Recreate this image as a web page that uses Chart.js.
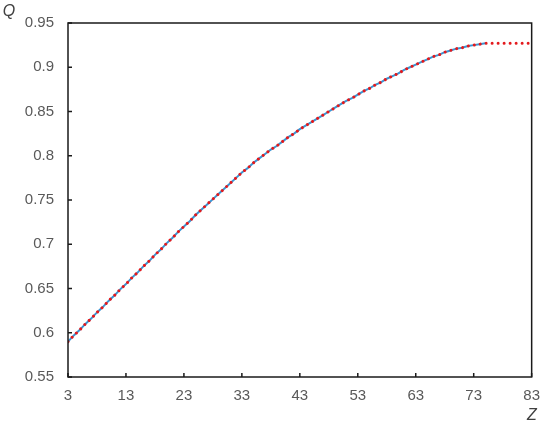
<!DOCTYPE html>
<html><head><meta charset="utf-8">
<script src="https://cdn.jsdelivr.net/npm/chart.js@4/dist/chart.umd.min.js"></script>
<style>html,body{margin:0;padding:0;background:#fff}#wrap{width:550px;height:429px}</style>
</head><body><div id="wrap"><canvas id="c" width="550" height="429"></canvas></div>
<script>
// Z values (x axis)
const zValues = [3,4,5,6,7,8,9,10,11,12,13,14,15,16,17,18,19,20,21,22,23,24,25,26,27,28,29,30,31,32,33,34,35,36,37,38,39,40,41,42,43,44,45,46,47,48,49,50,51,52,53,54,55,56,57,58,59,60,61,62,63,64,65,66,67,68,69,70,71,72,73,74,75,76,77,78,79,80,81,82,83];
// blue solid series (Z = 3..75)
const qBlue = [0.590,0.597,0.603,0.610,0.616,0.623,0.629,0.636,0.642,0.649,0.655,0.662,0.668,0.675,0.681,0.688,0.694,0.701,0.707,0.714,0.720,0.726,0.733,0.739,0.745,0.751,0.757,0.763,0.769,0.775,0.781,0.786,0.792,0.797,0.802,0.807,0.811,0.816,0.821,0.825,0.830,0.834,0.838,0.842,0.846,0.850,0.854,0.858,0.862,0.865,0.869,0.873,0.876,0.880,0.883,0.887,0.890,0.893,0.897,0.900,0.903,0.906,0.909,0.912,0.914,0.917,0.919,0.921,0.922,0.924,0.925,0.926,0.927];
// red dotted series (Z = 3..83)
const qRed = [0.590,0.597,0.603,0.610,0.616,0.623,0.629,0.636,0.642,0.649,0.655,0.662,0.668,0.675,0.681,0.688,0.694,0.701,0.707,0.714,0.720,0.726,0.733,0.739,0.745,0.751,0.757,0.763,0.769,0.775,0.781,0.786,0.792,0.797,0.802,0.807,0.811,0.816,0.821,0.825,0.830,0.834,0.838,0.842,0.846,0.850,0.854,0.858,0.862,0.865,0.869,0.873,0.876,0.880,0.883,0.887,0.890,0.893,0.897,0.900,0.903,0.906,0.909,0.912,0.914,0.917,0.919,0.921,0.922,0.924,0.925,0.926,0.927,0.927,0.927,0.927,0.927,0.927,0.927,0.927,0.927];
const xTicks = [3,13,23,33,43,53,63,73,83];
const yTicks = [0.55,0.6,0.65,0.7,0.75,0.8,0.85,0.9,0.95];
const yTickLabels = ['0.55','0.6','0.65','0.7','0.75','0.8','0.85','0.9','0.95'];

const blueData = qBlue.map((q,i)=>({x:zValues[i],y:q}));
const redData = qRed.map((q,i)=>({x:zValues[i],y:q}));

const frameAndTicks = {
  id:'frameAndTicks',
  afterDraw(chart){
    const {ctx, chartArea:a, scales:{x,y}} = chart;
    ctx.save();
    ctx.strokeStyle = '#1a1a1a';
    ctx.lineWidth = 1.5;
    ctx.beginPath();
    x.ticks.forEach(t=>{
      const px = x.getPixelForValue(t.value);
      ctx.moveTo(px, a.bottom); ctx.lineTo(px, a.bottom-4);
    });
    y.ticks.forEach(t=>{
      const py = y.getPixelForValue(t.value);
      ctx.moveTo(a.left, py); ctx.lineTo(a.left+4, py);
    });
    ctx.stroke();
    ctx.strokeRect(a.left, a.top, a.right-a.left, a.bottom-a.top);
    ctx.fillStyle = '#404040';
    ctx.font = 'italic 16px "Liberation Sans", Arial, sans-serif';
    ctx.textAlign = 'center';
    ctx.textBaseline = 'middle';
    ctx.fillText('Q', 9, 12);
    ctx.fillText('Z', 532, 416);
    ctx.restore();
  }
};

new Chart(document.getElementById('c'), {
  type:'line',
  data:{datasets:[
    {label:'red', data:redData, borderColor:'#e3191c', borderWidth:3, borderDash:[0.001,6], borderCapStyle:'round', pointRadius:0, tension:0, fill:false, order:0},
    {label:'blue', data:blueData, borderColor:'#3a96d4', borderWidth:2, pointRadius:0, tension:0, fill:false, order:1}
  ]},
  options:{
    responsive:false, animation:false, devicePixelRatio:1,
    layout:{padding:{top:13,right:12,left:0,bottom:0}},
    plugins:{legend:{display:false}, tooltip:{enabled:false}},
    scales:{
      x:{type:'linear', min:3, max:83,
        afterBuildTicks(s){ s.ticks = xTicks.map(v=>({value:v})); },
        afterFit(s){ s.height = 52; },
        grid:{display:false, drawTicks:false}, border:{display:false},
        ticks:{padding:10, color:'#595959', font:{family:'"Liberation Sans", Arial, sans-serif', size:15}, callback:(v)=>String(v), maxRotation:0, autoSkip:false}
      },
      y:{type:'linear', min:0.55, max:0.95,
        afterBuildTicks(s){ s.ticks = yTicks.map(v=>({value:v})); },
        afterFit(s){ s.width = 68; },
        grid:{display:false, drawTicks:false}, border:{display:false},
        ticks:{padding:14, color:'#595959', font:{family:'"Liberation Sans", Arial, sans-serif', size:15}, callback:(v)=>{const i=yTicks.findIndex(t=>Math.abs(t-v)<1e-9); return i>=0?yTickLabels[i]:'';}, autoSkip:false}
      }
    }
  },
  plugins:[frameAndTicks]
});
</script>
</body></html>
